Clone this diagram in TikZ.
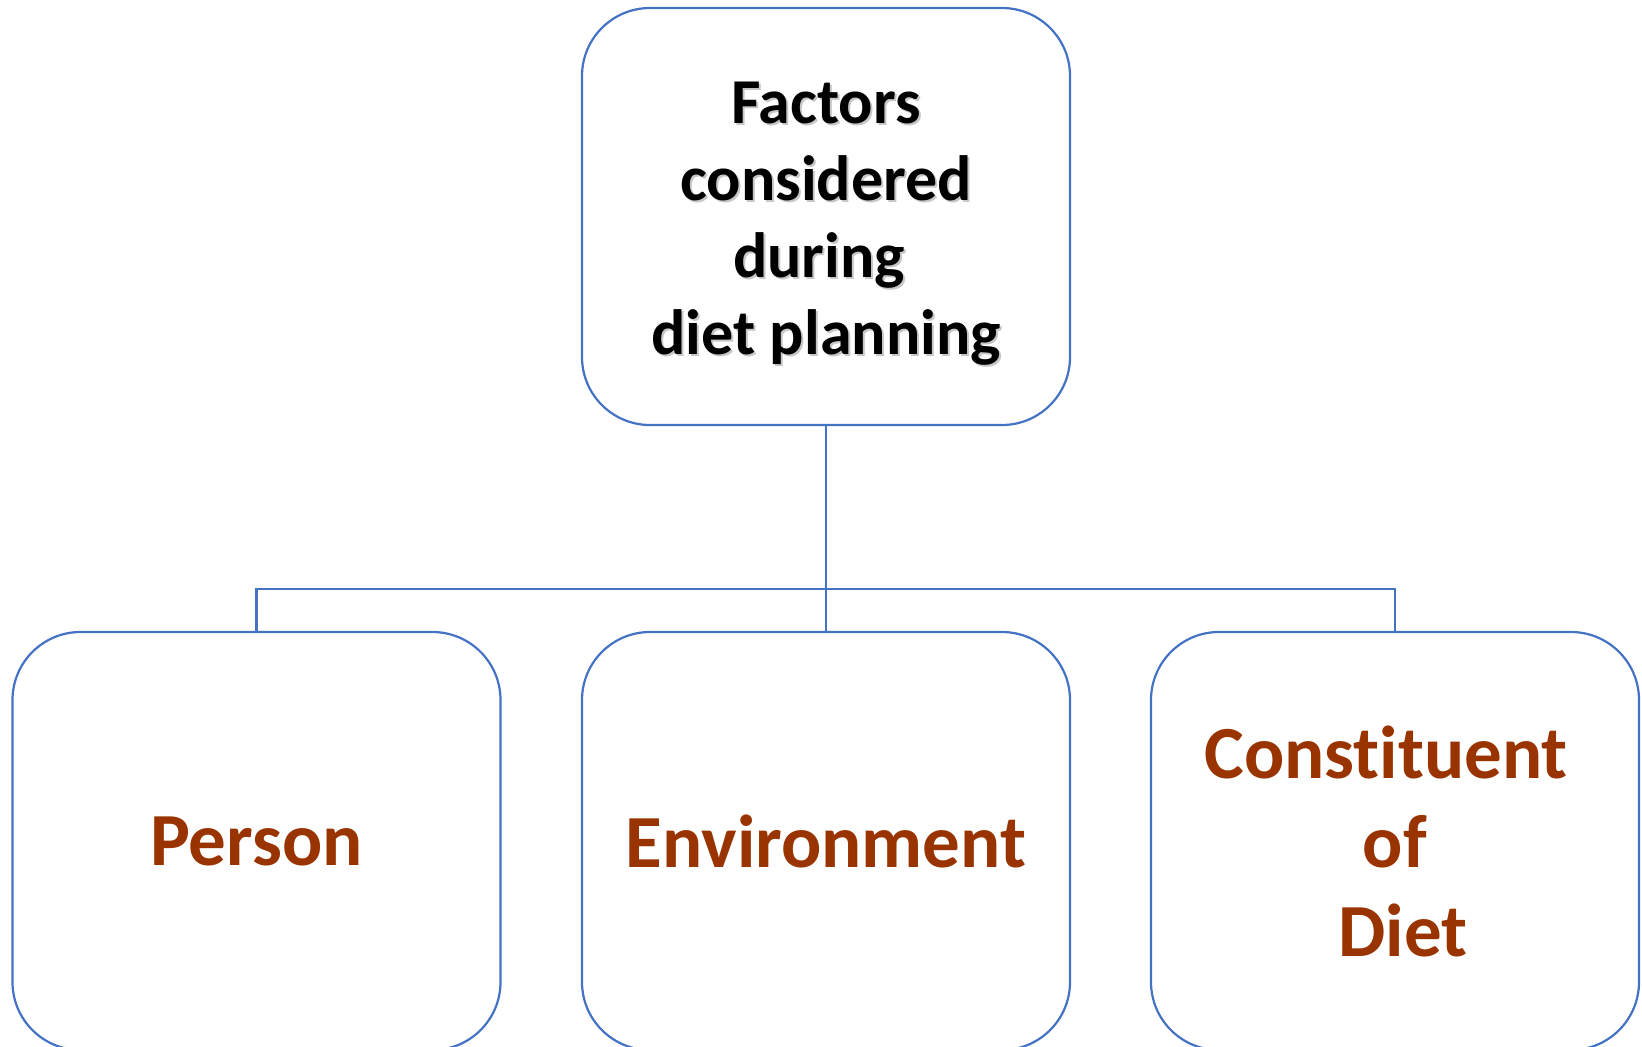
\documentclass[tikz,border=0pt]{standalone}
\usepackage{fontspec}
\setmainfont{Carlito}[Ligatures=NoCommon]
\definecolor{boxblue}{HTML}{4472C4}
\definecolor{rust}{HTML}{993300}
\begin{document}
\begin{tikzpicture}[x=1pt,y=-1pt,
  box/.style={draw=boxblue, line width=2.2pt, rounded corners=68pt, minimum width=488pt, inner sep=0pt, align=center},
  headfont/.style={font=\bfseries\fontsize{64}{77}\selectfont, align=center, inner sep=0pt},
  leaffont/.style={font=\bfseries\fontsize{75}{89}\selectfont, text=rust},
  link/.style={draw=boxblue, line width=2.2pt}]
\useasboundingbox (0,0) rectangle (1642,1047);
\node[box, minimum height=417pt] (top) at (826,216.5) {};
\node[headfont, text=black!22] (topshadow) at (828,226) {Factors\\considered\\\hbox{during\kern14pt}\\diet planning};
\node[headfont] (toptext) at (826,224) {Factors\\considered\\\hbox{during\kern14pt}\\diet planning};
\node[box, leaffont, minimum height=418pt] (person) at (256.5,841) {Person};
\node[box, leaffont, minimum height=418pt] (env) at (826,841) {Environment};
\node[box, leaffont, minimum height=418pt] (const) at (1395,841) {\hbox{Constituent\kern18pt}\\of\\\hbox{\kern16pt Diet}};
\coordinate (bus) at (826,589);
\draw[link] (top.south) -- (env.north);
\draw[link] (person.north) -- (person.north |- bus) -- (const.north |- bus) -- (const.north);
\end{tikzpicture}
\end{document}
